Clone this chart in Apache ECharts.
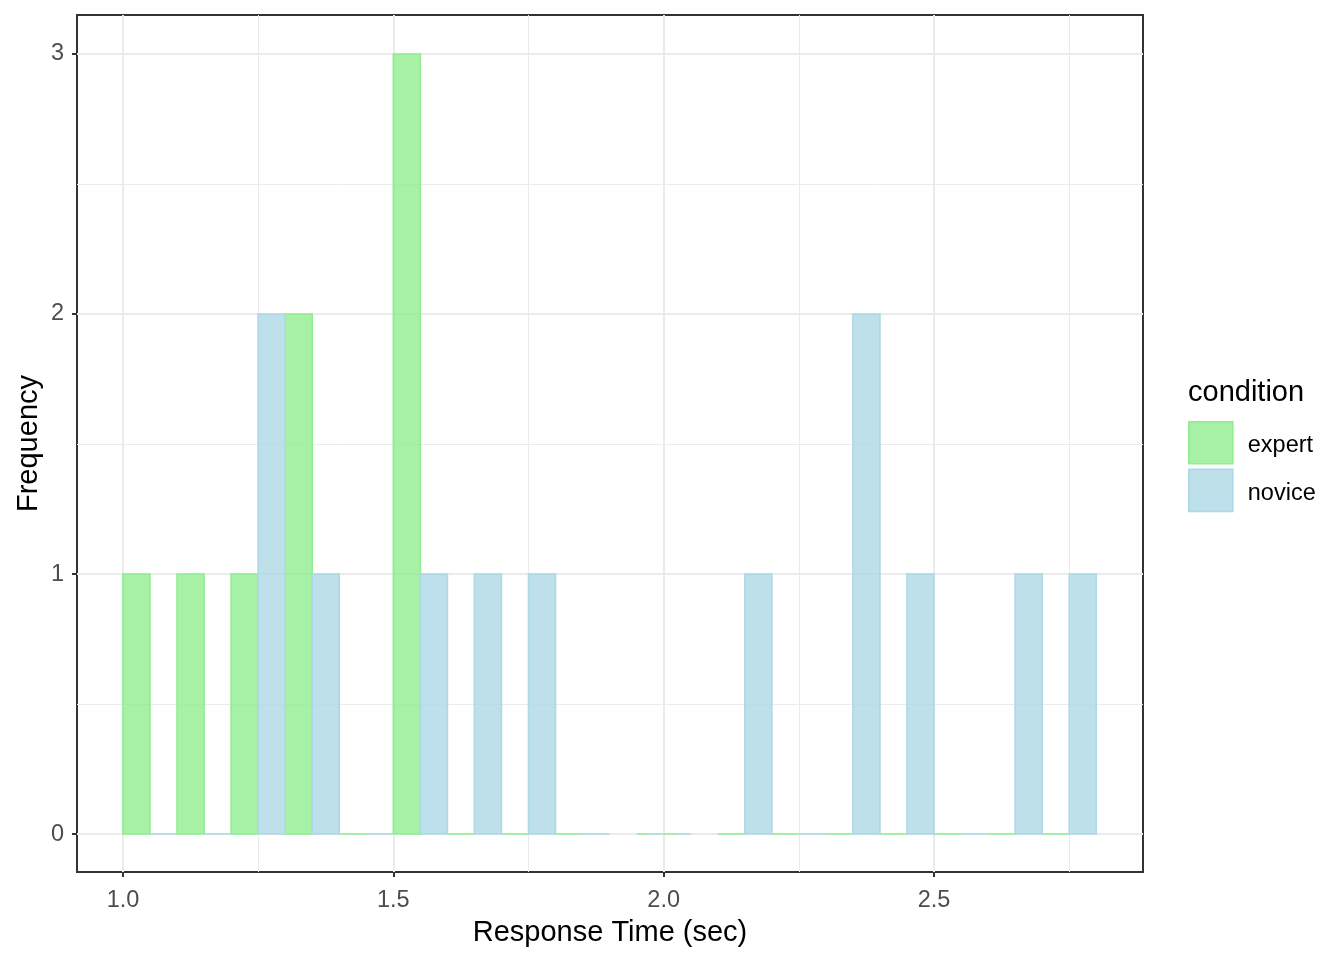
<!DOCTYPE html>
<html>
<head>
<meta charset="utf-8">
<script src="https://cdn.jsdelivr.net/npm/echarts@6/dist/echarts.min.js"></script>
<style>
html,body{margin:0;padding:0;background:#fff;}
#chart{width:1344px;height:960px;}
</style>
</head>
<body>
<div id="chart"></div>
<script>
// Histogram bins (sec) and counts per condition
const binLeft  = [1.0, 1.1, 1.2, 1.3, 1.4, 1.5, 1.6, 1.7, 1.8, 1.95, 2.0, 2.1, 2.2, 2.3, 2.4, 2.5, 2.6, 2.7];
const binRight = [1.1, 1.2, 1.3, 1.4, 1.5, 1.6, 1.7, 1.8, 1.9, 2.0, 2.05, 2.2, 2.3, 2.4, 2.5, 2.6, 2.7, 2.8];
const expertCounts = [1, 1, 1, 2, 0, 3, 0, 0, 0, 0, 0, 0, 0, 0, 0, 0, 0, 0];
const noviceCounts = [0, 0, 2, 1, 0, 1, 1, 1, 0, 0, 0, 1, 0, 2, 1, 0, 1, 1];
const conditions = ['expert', 'novice'];
const xTicks = [1.0, 1.5, 2.0, 2.5];
const xMinorTicks = [1.25, 1.75, 2.25, 2.75];
const yTicks = [0, 1, 2, 3];
const yMinorTicks = [0.5, 1.5, 2.5];

const FONT = "'Liberation Sans', Arial, sans-serif";
const fills = ['rgba(144,238,144,0.8)', 'rgba(173,216,230,0.8)'];
const strokes = ['#90EE90', '#ADD8E6'];

// dodge: group 0 on the left half of the bin, group 1 on the right half
function buildData(counts, g) {
  return counts.map((c, i) => {
    const mid = (binLeft[i] + binRight[i]) / 2;
    const l = g === 0 ? binLeft[i] : mid;
    const r = g === 0 ? mid : binRight[i];
    return [l, r, c];
  });
}

function renderBar(g) {
  return function (params, api) {
    const p1 = api.coord([api.value(0), api.value(2)]);
    const p0 = api.coord([api.value(1), 0]);
    return {
      type: 'rect',
      shape: { x: p1[0], y: p1[1], width: p0[0] - p1[0], height: p0[1] - p1[1] },
      style: { fill: fills[g], stroke: strokes[g], lineWidth: 1.6 }
    };
  };
}

const chart = echarts.init(document.getElementById('chart'), null, { renderer: 'canvas' });

const xMin = 0.915, xMax = 2.8865, yMin = -0.146, yMax = 3.15;

chart.setOption({
  animation: false,
  backgroundColor: '#ffffff',
  grid: { left: 77, top: 15, right: 201, bottom: 88, show: true, borderColor: '#333333', borderWidth: 2, backgroundColor: 'transparent' },
  xAxis: [
    {
      type: 'value', min: xMin, max: xMax,
      name: 'Response Time (sec)', nameLocation: 'middle', nameGap: 46, nameMoveOverlap: false,
      nameTextStyle: { fontFamily: FONT, fontSize: 29, color: '#000000' },
      axisLine: { show: false, onZero: false },
      axisTick: { show: true, customValues: xTicks, length: 5, lineStyle: { color: '#333333', width: 2 } },
      axisLabel: { customValues: xTicks, margin: 17, fontFamily: FONT, fontSize: 23.5, color: '#4D4D4D', formatter: v => v.toFixed(1) },
      splitLine: { show: true, lineStyle: { color: '#EBEBEB', width: 2 } }
    },
    {
      type: 'value', min: xMin, max: xMax, position: 'bottom',
      axisLine: { show: false, onZero: false },
      axisTick: { show: false, customValues: xMinorTicks },
      axisLabel: { show: false, customValues: xMinorTicks },
      splitLine: { show: true, lineStyle: { color: '#EBEBEB', width: 1 } }
    }
  ],
  yAxis: [
    {
      type: 'value', min: yMin, max: yMax,
      name: 'Frequency', nameLocation: 'middle', nameGap: 34, nameMoveOverlap: false,
      nameTextStyle: { fontFamily: FONT, fontSize: 29, color: '#000000' },
      axisLine: { show: false, onZero: false },
      axisTick: { show: true, customValues: yTicks, length: 5, lineStyle: { color: '#333333', width: 2 } },
      axisLabel: { customValues: yTicks, margin: 13, fontFamily: FONT, fontSize: 23.5, color: '#4D4D4D' },
      splitLine: { show: true, lineStyle: { color: '#EBEBEB', width: 2 } }
    },
    {
      type: 'value', min: yMin, max: yMax, position: 'left',
      axisLine: { show: false, onZero: false },
      axisTick: { show: false, customValues: yMinorTicks },
      axisLabel: { show: false, customValues: yMinorTicks },
      splitLine: { show: true, lineStyle: { color: '#EBEBEB', width: 1 } }
    }
  ],
  legend: {
    orient: 'vertical', left: 1188, top: 421, padding: 0,
    itemWidth: 44, itemHeight: 42, itemGap: 4,
    selectedMode: false,
    formatter: '{a|{name}}',
    textStyle: {
      fontFamily: FONT, fontSize: 23.5, color: '#000000', padding: [0, 0, 0, 10],
      rich: { a: { fontFamily: FONT, fontSize: 23.5, color: '#000000', padding: [6, 0, 0, 0] } }
    },
    data: conditions.map((c, g) => ({
      name: c, icon: 'rect',
      itemStyle: { color: fills[g], borderColor: strokes[g], borderWidth: 1.6 }
    }))
  },
  graphic: [{
    type: 'text', left: 1188, top: 378,
    style: { text: 'condition', font: "29px " + FONT, fill: '#000000' }
  }],
  series: [
    {
      name: conditions[0], type: 'custom', xAxisIndex: 0, yAxisIndex: 0,
      renderItem: renderBar(0), encode: { x: [0, 1], y: 2 },
      itemStyle: { color: fills[0], borderColor: strokes[0] },
      data: buildData(expertCounts, 0)
    },
    {
      name: conditions[1], type: 'custom', xAxisIndex: 0, yAxisIndex: 0,
      renderItem: renderBar(1), encode: { x: [0, 1], y: 2 },
      itemStyle: { color: fills[1], borderColor: strokes[1] },
      data: buildData(noviceCounts, 1)
    }
  ]
});
</script>
</body>
</html>
